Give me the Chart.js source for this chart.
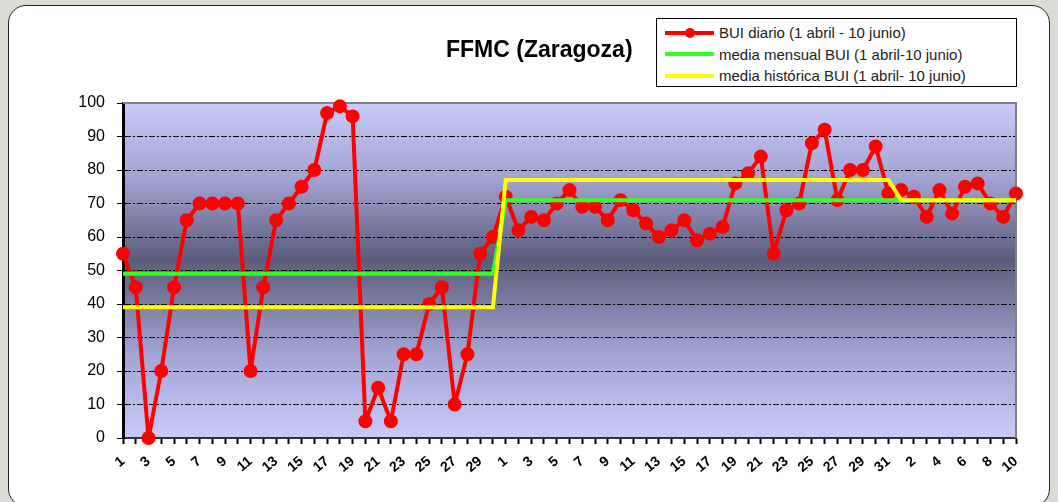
<!DOCTYPE html>
<html>
<head>
<meta charset="utf-8">
<script src="https://cdn.jsdelivr.net/npm/chart.js@4.4.1/dist/chart.umd.min.js"></script>
<style>
  html, body { margin: 0; padding: 0; }
  body {
    width: 1058px; height: 502px; position: relative; overflow: hidden;
    background: #dcdcd6;
    font-family: "Liberation Sans", Arial, sans-serif;
  }
  #frame {
    position: absolute; left: 8px; top: 5px; width: 1040px; height: 500px;
    background: #fff; border: 1px solid #222; border-radius: 18px;
  }
  #wrap { position: absolute; left: 0; top: 0; width: 1058px; height: 502px; }
  #title {
    position: absolute; left: 446px; top: 36px;
    font-size: 23px; font-weight: bold; color: #000; white-space: nowrap;
  }
  #legend {
    position: absolute; left: 656px; top: 18px; width: 361px; height: 69px;
    box-sizing: border-box; border: 1px solid #000; background: #fff;
    padding-top: 3px;
  }
  #legend ul { list-style: none; margin: 0; padding: 0; }
  #legend li { display: flex; align-items: center; height: 21.5px; font-size: 15px; color: #222; white-space: nowrap; }
  #legend .mark { position: relative; width: 49px; height: 4px; margin-left: 8px; margin-right: 5px; }
  #legend .dot { position: absolute; left: 20px; top: -3px; width: 10px; height: 10px; border-radius: 50%; }
</style>
</head>
<body>
<div id="frame"></div>
<div id="wrap"><canvas id="grafico"></canvas></div>
<div id="title">FFMC (Zaragoza)</div>
<div id="legend"></div>
<script>
// dias: 1 abril - 10 junio
const days = [
  1, 2, 3, 4, 5, 6, 7, 8, 9, 10, 11, 12, 13, 14, 15, 16, 17, 18, 19, 20, 21, 22, 23, 24, 25, 26, 27, 28, 29, 30,
  1, 2, 3, 4, 5, 6, 7, 8, 9, 10, 11, 12, 13, 14, 15, 16, 17, 18, 19, 20, 21, 22, 23, 24, 25, 26, 27, 28, 29, 30, 31,
  1, 2, 3, 4, 5, 6, 7, 8, 9, 10
];
const monthLengths = [30, 31, 10];

const buiDiario = [
  55, 45, 0, 20, 45, 65, 70, 70, 70, 70, 20, 45, 65, 70, 75, 80, 97, 99, 96, 5, 15, 5, 25, 25, 40, 45, 10, 25, 55, 60,
  72, 62, 66, 65, 70, 74, 69, 69, 65, 71, 68, 64, 60, 62, 65, 59, 61, 63, 76, 79, 84, 55, 68, 70, 88, 92, 71, 80, 80, 87, 73,
  74, 72, 66, 74, 67, 75, 76, 70, 66, 73
];
const mediaMensual = [49, 71, 71];
const mediaHistorica = [39, 77, 71];

const yMin = 0;
const yMax = 100;
const yStep = 10;

// una media por mes -> un valor por dia
const porDia = (medias) => monthLengths.flatMap((n, i) => Array(n).fill(medias[i]));

// fondo degradado del area de grafico + borde gris
const plotBackground = {
  id: 'plotBackground',
  beforeDraw(chart) {
    const { ctx, chartArea: a } = chart;
    const g = ctx.createLinearGradient(0, a.top, 0, a.bottom);
    g.addColorStop(0, '#cacafa');
    g.addColorStop(0.22, '#a4a4d4');
    g.addColorStop(0.47, '#5c5c7a');
    g.addColorStop(0.75, '#a4a4d4');
    g.addColorStop(1, '#cacafa');
    ctx.save();
    ctx.fillStyle = g;
    ctx.fillRect(a.left, a.top, a.right - a.left, a.bottom - a.top);
    ctx.restore();
  },
  beforeDatasetsDraw(chart) {
    const { ctx, chartArea: a } = chart;
    ctx.save();
    ctx.strokeStyle = '#808080';
    ctx.lineWidth = 2;
    ctx.beginPath();
    ctx.moveTo(a.left, a.top);
    ctx.lineTo(a.right, a.top);
    ctx.lineTo(a.right, a.bottom);
    ctx.stroke();
    ctx.restore();
  }
};

// leyenda en HTML
const htmlLegend = {
  id: 'htmlLegend',
  afterUpdate(chart) {
    const box = document.getElementById('legend');
    box.innerHTML = '';
    const ul = document.createElement('ul');
    chart.data.datasets.forEach((ds) => {
      const li = document.createElement('li');
      const mark = document.createElement('span');
      mark.className = 'mark';
      mark.style.background = ds.borderColor;
      if (ds.pointRadius > 0) {
        const dot = document.createElement('span');
        dot.className = 'dot';
        dot.style.background = ds.pointBackgroundColor;
        mark.appendChild(dot);
      }
      const txt = document.createElement('span');
      txt.textContent = ds.label;
      li.appendChild(mark);
      li.appendChild(txt);
      ul.appendChild(li);
    });
    box.appendChild(ul);
  }
};

new Chart(document.getElementById('grafico'), {
  type: 'line',
  data: {
    labels: days,
    datasets: [
      {
        label: 'BUI diario (1 abril - 10 junio)',
        data: buiDiario,
        borderColor: '#ff0000',
        backgroundColor: '#ff0000',
        pointBackgroundColor: '#ff0000',
        pointBorderColor: '#ff0000',
        borderWidth: 4,
        borderJoinStyle: 'round',
        pointRadius: 5,
        tension: 0,
        clip: false,
        order: 3,
      },
      {
        label: 'media mensual BUI (1 abril-10 junio)',
        data: porDia(mediaMensual),
        borderColor: '#33ff22',
        backgroundColor: '#33ff22',
        borderWidth: 4,
        pointRadius: 0,
        tension: 0,
        order: 2,
      },
      {
        label: 'media histórica BUI (1 abril- 10 junio)',
        data: porDia(mediaHistorica),
        borderColor: '#ffff00',
        backgroundColor: '#ffff00',
        borderWidth: 4,
        pointRadius: 0,
        tension: 0,
        order: 1,
      },
    ],
  },
  options: {
    responsive: true,
    maintainAspectRatio: false,
    animation: false,
    events: [],
    layout: { padding: { left: 0, top: 103, right: 42, bottom: 0 } },
    plugins: {
      legend: { display: false },
      title: { display: false },
      tooltip: { enabled: false },
    },
    scales: {
      x: {
        offset: false,
        afterFit(scale) { scale.height = 64; },
        grid: { drawOnChartArea: false, drawTicks: true, tickLength: 6, tickColor: '#000', tickWidth: 2 },
        border: { display: true, color: '#333', width: 2 },
        ticks: {
          autoSkip: false,
          maxRotation: 40,
          minRotation: 40,
          padding: 9,
          color: '#000',
          font: { family: 'Liberation Sans', size: 14, weight: 'bold' },
          callback: (v, i) => (i % 2 === 0 ? days[i] : ''),
        },
      },
      y: {
        min: yMin,
        max: yMax,
        afterFit(scale) { scale.width = 123; },
        grid: { color: '#000', lineWidth: 1, drawTicks: true, tickLength: 6, tickColor: '#000', tickWidth: 1 },
        border: { display: true, color: '#000', width: 3, dash: [6, 2, 2, 2] },
        ticks: {
          stepSize: yStep,
          padding: 12,
          color: '#000',
          font: { family: 'Liberation Sans', size: 16 },
        },
      },
    },
  },
  plugins: [plotBackground, htmlLegend],
});
</script>
</body>
</html>
